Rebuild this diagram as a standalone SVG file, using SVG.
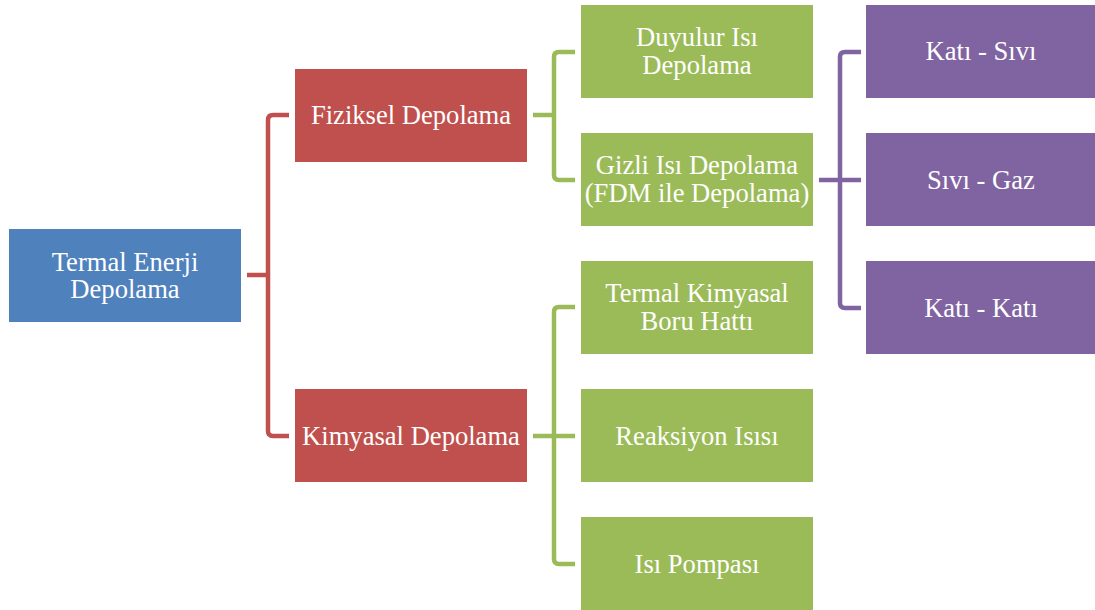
<svg xmlns="http://www.w3.org/2000/svg" width="1095" height="610" viewBox="0 0 1095 610">
<style>
.t{font-family:"Liberation Serif","Times New Roman",serif;font-size:26.6px;fill:#fff;text-anchor:middle}
.c{fill:none;stroke-width:4.5;stroke-linejoin:round;stroke-linecap:butt}
</style>
<rect width="1095" height="610" fill="#fff"/>
<g id="connectors">
<path class="c" stroke="#C0504D" d="M247,275H268M289,115H273Q268,115 268,120V431Q268,436 273,436H289"/>
<path class="c" stroke="#9BBB59" d="M533,115H554M575,52H559Q554,52 554,57V175Q554,180 559,180H575"/>
<path class="c" stroke="#9BBB59" d="M533,436H575M575,307H559Q554,307 554,312V559Q554,564 559,564H575"/>
<path class="c" stroke="#8064A2" d="M819,180H861M861,52H845Q840,52 840,57V303Q840,308 845,308H861"/>
</g>
<g id="n-root"><rect x="9" y="229" width="232" height="93" fill="#4F81BD"/><text class="t" x="125" y="271">Termal Enerji</text><text class="t" x="125" y="298">Depolama</text></g>
<g id="n-fiziksel"><rect x="295" y="69" width="232" height="93" fill="#C0504D"/><text class="t" x="411" y="124">Fiziksel Depolama</text></g>
<g id="n-kimyasal"><rect x="295" y="389" width="232" height="93" fill="#C0504D"/><text class="t" x="411" y="445">Kimyasal Depolama</text></g>
<g id="n-duyulur"><rect x="581" y="5" width="232" height="93" fill="#9BBB59"/><text class="t" x="697" y="46">Duyulur Isı</text><text class="t" x="697" y="74">Depolama</text></g>
<g id="n-gizli"><rect x="581" y="133" width="232" height="93" fill="#9BBB59"/><text class="t" x="697" y="174">Gizli Isı Depolama</text><text class="t" x="697" y="202">(FDM ile Depolama)</text></g>
<g id="n-termalkim"><rect x="581" y="261" width="232" height="93" fill="#9BBB59"/><text class="t" x="697" y="302">Termal Kimyasal</text><text class="t" x="697" y="330">Boru Hattı</text></g>
<g id="n-reaksiyon"><rect x="581" y="389" width="232" height="93" fill="#9BBB59"/><text class="t" x="697" y="445">Reaksiyon Isısı</text></g>
<g id="n-pompa"><rect x="581" y="517" width="232" height="93" fill="#9BBB59"/><text class="t" x="697" y="573">Isı Pompası</text></g>
<g id="n-katisivi"><rect x="866" y="5" width="229" height="93" fill="#8064A2"/><text class="t" x="981" y="60">Katı - Sıvı</text></g>
<g id="n-sivigaz"><rect x="866" y="133" width="229" height="93" fill="#8064A2"/><text class="t" x="981" y="189">Sıvı - Gaz</text></g>
<g id="n-katikati"><rect x="866" y="261" width="229" height="93" fill="#8064A2"/><text class="t" x="981" y="317">Katı - Katı</text></g>
</svg>
